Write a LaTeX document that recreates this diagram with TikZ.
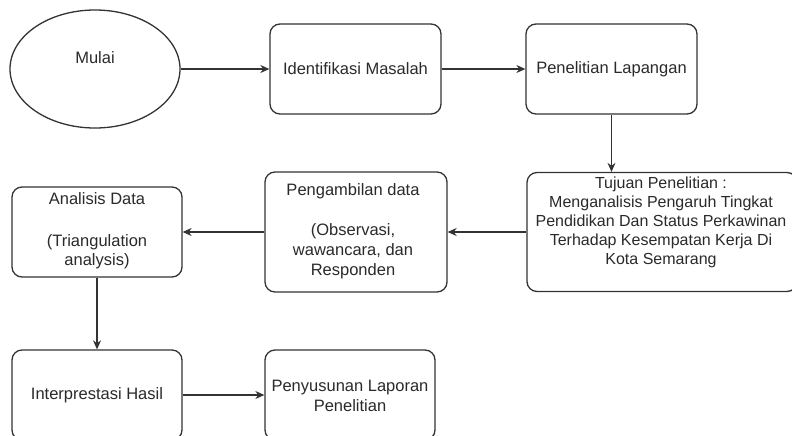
\documentclass[tikz,border=0pt]{standalone}
\usepackage{fontspec}
\setmainfont{Liberation Sans}
\usetikzlibrary{arrows.meta,shapes.geometric}
\definecolor{lineC}{HTML}{333333}
\definecolor{textC}{HTML}{2A2A2A}
\tikzset{
  box/.style={draw=lineC, line width=1.3pt, rounded corners=10pt, fill=white},
  lbl/.style={text=textC, align=center, inner sep=0pt, font=\fontsize{16.5}{20}\selectfont},
  flow/.style={draw=lineC, line width=1.2pt, -{Stealth[length=9pt,width=8pt]}}
}
\begin{document}
\begin{tikzpicture}[x=1pt,y=-1pt]
\useasboundingbox (0,0) rectangle (792,436);
\clip (0,0) rectangle (792,436);
% shapes
\node[draw=lineC, line width=1.3pt, ellipse, minimum width=170pt, minimum height=118pt, inner sep=0pt] (mulai) at (95,69) {};
\node[lbl] (mulaiT) at (95,58) {Mulai};
\node[box, minimum width=171pt, minimum height=90pt] (ident) at (355.5,69) {};
\node[lbl] at (ident.center) {Identifikasi Masalah};
\node[box, minimum width=171pt, minimum height=90pt] (lap) at (611.5,69) {};
\node[lbl] at (lap.center) {Penelitian Lapangan};
\node[box, minimum width=270pt, minimum height=119pt] (tuj) at (662,232) {};
\node[lbl, font=\fontsize{16}{19}\selectfont] at (661,222) {Tujuan Penelitian :\\Menganalisis Pengaruh Tingkat\\Pendidikan Dan Status Perkawinan\\Terhadap Kesempatan Kerja Di\\Kota Semarang};
\node[box, minimum width=182pt, minimum height=120pt] (ambil) at (356,232) {};
\node[lbl, font=\fontsize{16.5}{20}\selectfont] at (353,231.5) {Pengambilan data\\[20pt](Observasi,\\wawancara, dan\\Responden};
\node[box, minimum width=170pt, minimum height=90pt] (anal) at (97,232) {};
\node[lbl, font=\fontsize{16.5}{19}\selectfont] at (97,231) {Analisis Data\\[23pt](Triangulation\\analysis)};
\node[box, minimum width=170pt, minimum height=90pt] (interp) at (97,395) {};
\node[lbl] at (interp.center) {Interprestasi Hasil};
\node[box, minimum width=170pt, minimum height=90pt] (susun) at (350,395) {};
\node[lbl] at (350,396) {Penyusunan Laporan\\Penelitian};
% connectors
\draw[flow] (mulai.east) -- (ident.west);
\draw[flow] (ident.east) -- (lap.west);
\draw[flow] (lap.south) -- (lap.south |- tuj.north);
\draw[flow] (tuj.west) -- (ambil.east);
\draw[flow] (ambil.west) -- (anal.east);
\draw[flow] (anal.south) -- (interp.north);
\draw[flow] (interp.east) -- (susun.west);
\end{tikzpicture}
\end{document}
